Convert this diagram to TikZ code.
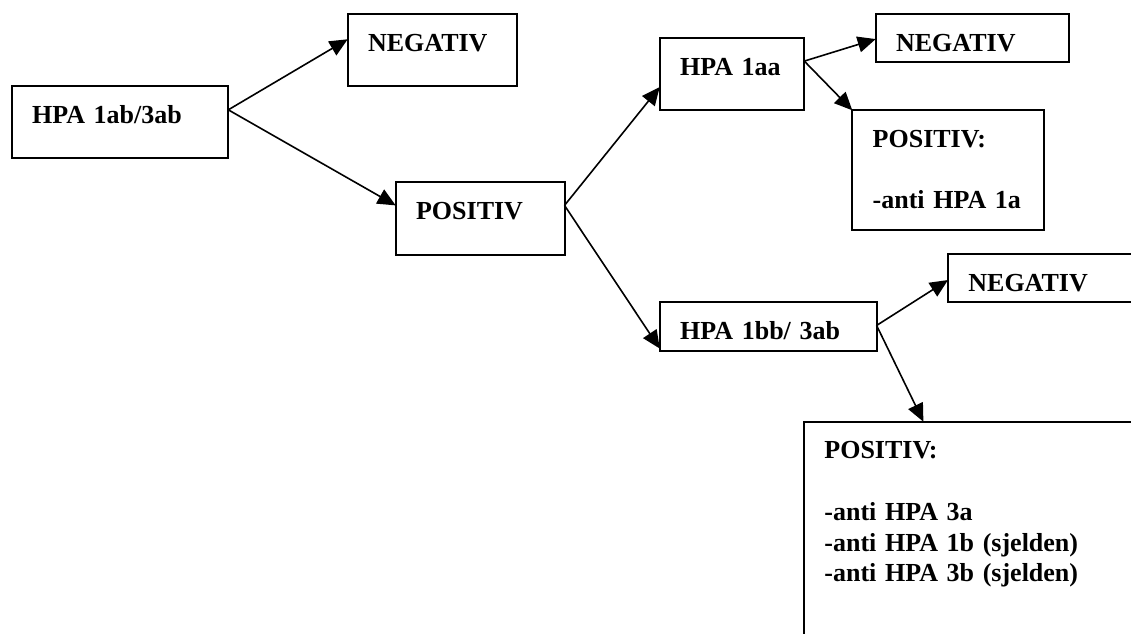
\documentclass[tikz,border=0pt]{standalone}
\usepackage{fontspec}
\setmainfont{Liberation Serif}
\usetikzlibrary{arrows.meta, calc}

\begin{document}
\begin{tikzpicture}[x=0.5pt, y=-0.5pt, >={Triangle[length=9pt, width=8pt]},
  font=\bfseries\fontsize{13}{15.4}\selectfont,
  res/.style={draw, line width=1pt, anchor=north west, align=left, inner xsep=10.2pt, inner ysep=0pt, outer sep=0pt, text height=18.5pt},
  tall/.style={res, text depth=17.6pt},
  flat/.style={res, text depth=5.6pt},
  conn/.style={->, line width=0.8pt}]
  \useasboundingbox (0,0) rectangle (1131,633);
  \clip (0,0) rectangle (1131,633);
  % first test
  \node[tall, text width=87.9pt] (root) at (11.7,86) {HPA 1ab/3ab};
  \node[tall, text width=64pt] (neg1) at (347.7,14) {NEGATIV};
  \node[tall, text width=64pt] (pos) at (395.7,182.3) {POSITIV};
  % second test, branch a
  \node[tall, text width=51.9pt] (hpa1aa) at (659.7,38) {HPA 1aa};
  \node[flat, text width=76pt] (neg2) at (875.7,14) {NEGATIV};
  \node[res, text width=75.6pt, text depth=41.3pt] (pos1a) at (852.3,110.3) {POSITIV:\\[15.4pt]-anti HPA 1a};
  % second test, branch b
  \node[flat, text width=88pt] (hpa1bb) at (659.8,302.3) {HPA 1bb/ 3ab};
  \node[flat, text width=85.6pt] (neg3) at (948,254) {NEGATIV};
  \node[res, text width=157.6pt, text depth=100.5pt] (pos3) at (804,421.7) {POSITIV:\\[15.4pt]-anti HPA 3a\\-anti HPA 1b (sjelden)\\-anti HPA 3b (sjelden)};
  \draw[conn] ($(root.north east)!0.33!(root.south east)$) -- ($(neg1.north west)!0.35!(neg1.south west)$);
  \draw[conn] ($(root.north east)!0.33!(root.south east)$) -- ($(pos.north west)!0.32!(pos.south west)$);
  \draw[conn] ($(pos.north east)!0.32!(pos.south east)$) -- ($(hpa1aa.north west)!0.68!(hpa1aa.south west)$);
  \draw[conn] ($(pos.north east)!0.32!(pos.south east)$) -- ($(hpa1bb.north west)!0.96!(hpa1bb.south west)$);
  \draw[conn] ($(hpa1aa.north east)!0.32!(hpa1aa.south east)$) -- ($(neg2.north west)!0.52!(neg2.south west)$);
  \draw[conn] ($(hpa1aa.north east)!0.32!(hpa1aa.south east)$) -- (pos1a.north west);
  \draw[conn] ($(hpa1bb.north east)!0.48!(hpa1bb.south east)$) -- ($(neg3.north west)!0.54!(neg3.south west)$);
  \draw[conn] ($(hpa1bb.north east)!0.48!(hpa1bb.south east)$) -- ([xshift=59.7pt]pos3.north west);
\end{tikzpicture}
\end{document}
